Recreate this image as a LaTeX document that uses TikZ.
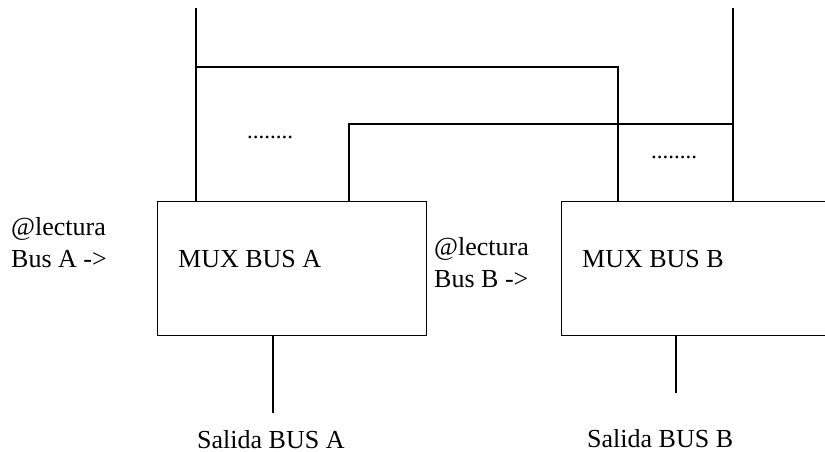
\documentclass[tikz,border=0pt]{standalone}
\usepackage{fontspec}
\setmainfont{Liberation Serif}
\begin{document}
\begin{tikzpicture}[x=1pt,y=-1pt,
  wire/.style={line width=1.3pt},
  boxst/.style={draw,line width=1.3pt,inner sep=0pt,anchor=north west},
  lbl/.style={font=\fontsize{26}{32}\selectfont,inner sep=0pt,anchor=base west},
  lbl2/.style={font=\fontsize{26}{32}\selectfont,inner sep=0pt,align=left,anchor=north west},
  dotst/.style={font=\fontsize{23}{26}\selectfont,inner sep=0pt,anchor=base west}]
\useasboundingbox (0,0) rectangle (825,452);
\begin{scope}
\clip (0,0) rectangle (825,452);
\node[boxst,minimum width=269pt,minimum height=134pt] (muxA) at (157,201) {};
\node[boxst,minimum width=300pt,minimum height=134pt] (muxB) at (561,201) {};
\end{scope}
% bus coordinates
\coordinate (topA) at (196,8);
\coordinate (cA1) at (196,67);
\coordinate (cA2) at (618,67);
\coordinate (inA2) at (349,201);
\coordinate (cB1) at (349,124);
\coordinate (cB2) at (733,124);
\coordinate (topB) at (733,8);
\coordinate (outA) at (273,413);
\coordinate (outB) at (676,393);
\draw[wire] (topA) -- (muxA.north west -| topA);
\draw[wire] (cA1) -- (cA2) -- (muxB.north west -| cA2);
\draw[wire] (inA2) -- (cB1) -- (cB2);
\draw[wire] (topB) -- (muxB.north west -| topB);
\draw[wire] (muxA.south west -| outA) -- (outA);
\draw[wire] (muxB.south west -| outB) -- (outB);
% texts
\node[lbl] (tA) at (178,267) {MUX BUS A};
\node[lbl] (tB) at (582,267) {MUX BUS B};
\node[lbl2] (rA) at (11,217) {@lectura\\Bus A ->};
\node[lbl2] (rB) at (434,237) {@lectura\\Bus B ->};
\node[lbl] (sA) at (197,448) {Salida BUS A};
\node[lbl] (sB) at (587,447) {Salida BUS B};
\node[dotst] (dA) at (247,138) {........};
\node[dotst] (dB) at (651,158) {........};
\end{tikzpicture}
\end{document}
